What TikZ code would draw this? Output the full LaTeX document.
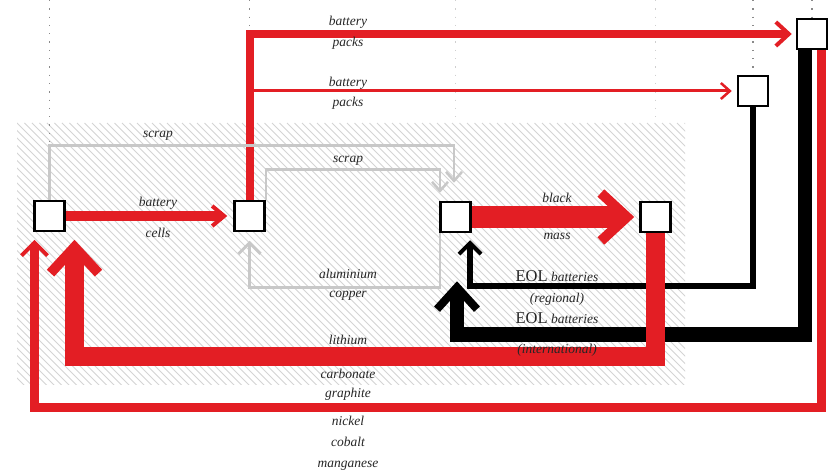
\documentclass[tikz,border=0pt]{standalone}
\usepackage{fontspec}
\setmainfont{Liberation Serif}
\usetikzlibrary{arrows.meta,calc}
\definecolor{flowred}{HTML}{E31E24}
\definecolor{scrapgray}{HTML}{C8C8C8}
\definecolor{hatchgray}{HTML}{D4D4D4}
\definecolor{dotdarkc}{HTML}{8A8A8A}
\definecolor{dotlightc}{HTML}{CFCFCF}
\newcommand\eolfont{\fontsize{16.5}{18}\selectfont\upshape}

\begin{document}
\begin{tikzpicture}[x=1pt,y=-1pt,
  box/.style={draw=black,fill=white,line width=2.5pt,minimum size=30pt,inner sep=0pt},
  lbl/.style={anchor=base,inner sep=0pt,text=black!85,
    font=\fontsize{13.5}{16}\selectfont\itshape},
  redflow/.style={draw=flowred,line join=miter,line cap=butt},
  blackflow/.style={draw=black,line join=miter,line cap=butt},
  grayflow/.style={draw=scrapgray,line join=miter,line cap=butt,line width=2.5pt},
  dotdark/.style={draw=dotdarkc,line width=1.2pt,dash pattern=on 1.3pt off 7pt},
  dotlight/.style={draw=dotlightc,line width=1.2pt,dash pattern=on 1.3pt off 7pt},
]
\useasboundingbox (0,0) rectangle (833,476);
\fill[white] (0,0) rectangle (833,476);

% hatched region
\begin{scope}
  \clip (17,123) rectangle (685,384);
  \foreach \i in {0,...,126}
    \draw[hatchgray,line width=0.8pt] ({17-270+\i*7.5},123) -- ++(270,270);
\end{scope}

% nodes
\node[box] (n1) at (49.5,216) {};
\node[box] (n2) at (249.5,216) {};
\node[box] (n3) at (455.5,217) {};
\node[box] (n4) at (655.5,217) {};
\node[box] (n5) at (753,91) {};
\node[box] (n6) at (812,34) {};

% dotted guide lines
\draw[dotdark] (n1.north |- 0,0) -- ++(0,143);
\draw[dotdark] (n2.north |- 0,0) -- ++(0,30);
\draw[dotlight] (n3.north |- 0,0) -- ++(0,123);
\draw[dotlight] (n4.north |- 0,0) -- ++(0,123);
\draw[dotdark] (n5.north |- 0,0) -- (n5.north);
\draw[dotdark] (n6.north |- 0,0) -- (n6.north);

% end-of-life battery flows
\draw[blackflow,line width=14.5pt,
  -{Straight Barb[length=22pt,width=40pt,line width=8pt]},shorten >=48pt]
  ([xshift=-7pt]n6.south) -- ++(0,284) -| ([xshift=1.5pt]n3.south);
\draw[blackflow,line width=6pt,
  -{Straight Barb[length=11pt,width=22pt,line width=4pt]},shorten >=7pt]
  (n5.south) -- ++(0,179) -| ([xshift=14.5pt]n3.south);

% material flows
\draw[redflow,line width=10pt,
  -{Straight Barb[length=12pt,width=20pt,line width=4pt]},shorten >=6pt]
  (n1.east) -- (n2.west);
\draw[redflow,line width=8pt,
  -{Straight Barb[length=13pt,width=24pt,line width=4pt]},shorten >=4pt]
  (n2.north) |- (n6.west);
\draw[redflow,line width=3pt,
  -{Straight Barb[length=9pt,width=16pt,line width=2.5pt]},shorten >=5pt]
  (n2.north |- n5.west) -- (n5.west);
\draw[redflow,line width=22pt,
  -{Straight Barb[length=26pt,width=48pt,line width=10pt]},shorten >=5pt]
  (n3.east) -- (n4.west);
\draw[redflow,line width=19pt,
  -{Straight Barb[length=26pt,width=48pt,line width=10pt]},shorten >=7.5pt]
  (n4.south) -- ++(0,123) -| ([xshift=25pt]n1.south);
\draw[redflow,line width=9pt,
  -{Straight Barb[length=13pt,width=26pt,line width=4pt]},shorten >=7.5pt]
  ([xshift=9.5pt]n6.south) -- ++(0,357) -| ([xshift=-15pt]n1.south);

% scrap and foil returns
\draw[grayflow,-{Straight Barb[length=9pt,width=16pt,line width=2.5pt]},shorten >=18pt]
  (n1.north) -- ++(0,-54) -| ([xshift=-1.5pt]n3.north);
\draw[grayflow,-{Straight Barb[length=9pt,width=16pt,line width=2.5pt]},shorten >=8pt]
  (n2.north east) -- ++(0,-30) -| ([xshift=-15.5pt]n3.north);
\draw[grayflow,-{Straight Barb[length=11pt,width=22pt,line width=3pt]},shorten >=8.5pt]
  ([xshift=-15.5pt]n3.south) -- ++(0,54) -| (n2.south);

% redraw nodes above the flows
\node[box] at (n1) {};
\node[box] at (n2) {};
\node[box] at (n3) {};
\node[box] at (n4) {};
\node[box] at (n5) {};
\node[box] at (n6) {};

% labels
\node[lbl] (t1) at (348,26) {battery};
\node[lbl] (t2) at (348,47) {packs};
\node[lbl] (t3) at (348,87) {battery};
\node[lbl] (t4) at (348,107) {packs};
\node[lbl] (t5) at (158,138) {scrap};
\node[lbl] (t6) at (348,163) {scrap};
\node[lbl] (t7) at (158,207) {battery};
\node[lbl] (t8) at (158,237) {cells};
\node[lbl] (t9) at (557,202) {black};
\node[lbl] (t10) at (557,239) {mass};
\node[lbl] (t11) at (348,278) {aluminium};
\node[lbl] (t12) at (348,297) {copper};
\node[lbl] (t13) at (348,344) {lithium};
\node[lbl] (t14) at (348,378) {carbonate};
\node[lbl] (t15) at (348,397) {graphite};
\node[lbl] (t16) at (348,425) {nickel};
\node[lbl] (t17) at (348,446) {cobalt};
\node[lbl] (t18) at (348,467) {manganese};
\node[lbl] (t19) at (557,281) {{\eolfont EOL} batteries};
\node[lbl] (t20) at (557,302) {(regional)};
\node[lbl] (t21) at (557,323) {{\eolfont EOL} batteries};
\node[lbl] (t22) at (557,353) {(international)};
\end{tikzpicture}
\end{document}
